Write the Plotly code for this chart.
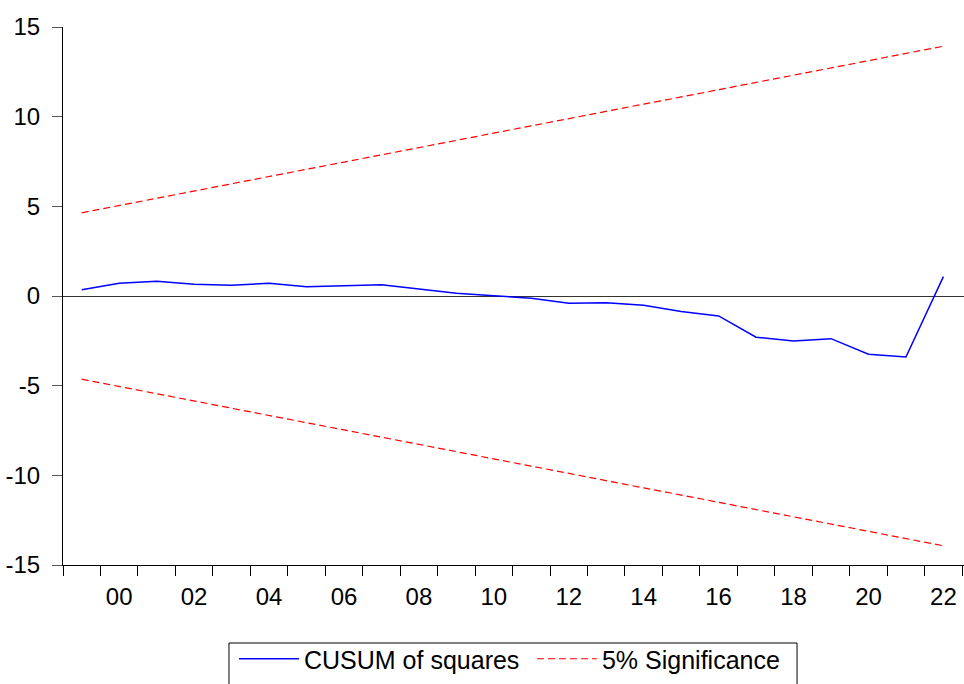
import plotly.graph_objects as go

years = list(range(1999, 2023))
cusum = [0.35, 0.71, 0.82, 0.65, 0.60, 0.71, 0.52, 0.56, 0.63, 0.39, 0.15, 0.02,
         -0.13, -0.41, -0.37, -0.52, -0.87, -1.11, -2.30, -2.51, -2.38, -3.25, -3.40, 1.08]
upper = [4.64, 5.05, 5.45, 5.86, 6.26, 6.66, 7.07, 7.47, 7.87, 8.28, 8.68, 9.09,
         9.49, 9.89, 10.30, 10.70, 11.10, 11.51, 11.91, 12.32, 12.72, 13.12, 13.53, 13.93]
lower = [-4.64, -5.05, -5.45, -5.86, -6.26, -6.66, -7.07, -7.47, -7.87, -8.28, -8.68, -9.09,
         -9.49, -9.89, -10.30, -10.70, -11.10, -11.51, -11.91, -12.32, -12.72, -13.12, -13.53, -13.93]
label_years = list(range(2000, 2023, 2))
label_text = ["%02d" % (y % 100) for y in label_years]
y_ticks = [-15, -10, -5, 0, 5, 10, 15]
y_text = [str(v) for v in y_ticks]

xc = [y + 0.5 for y in years]
FONT = "Liberation Sans, Arial, sans-serif"

fig = go.Figure()
fig.add_trace(go.Scatter(x=xc, y=cusum, mode="lines", name="CUSUM of squares",
                         line=dict(color="#0000ff", width=1.5), legend="legend"))
fig.add_trace(go.Scatter(x=xc, y=upper, mode="lines", name="5% Significance",
                         line=dict(color="#ff0000", width=1.2, dash="7px,4px"),
                         legend="legend2"))
fig.add_trace(go.Scatter(x=xc, y=lower, mode="lines", name="lower", showlegend=False,
                         line=dict(color="#ff0000", width=1.2, dash="7px,4px")))

leg_common = dict(orientation="h", y=-0.132, xanchor="left", yanchor="top",
                  borderwidth=0, font=dict(size=25), bgcolor="rgba(0,0,0,0)",
                  itemwidth=60)

fig.update_layout(
    width=964, height=684,
    margin=dict(l=63, r=0, t=27, b=119, autoexpand=False),
    paper_bgcolor="white", plot_bgcolor="white",
    font=dict(family=FONT, size=24, color="black"),
    showlegend=True,
    legend=dict(x=0.1898, **leg_common),
    legend2=dict(x=0.5205, **leg_common),
    shapes=[dict(type="rect", xref="paper", yref="paper",
                 x0=0.1842, x1=0.8147, y0=-0.145, y1=-0.30,
                 line=dict(color="black", width=1), fillcolor="rgba(0,0,0,0)",
                 layer="below")],
    xaxis=dict(range=[1999, 2023.05], tickmode="array",
               tickvals=[y + 0.5 for y in label_years], ticktext=label_text,
               ticks="", showgrid=False, showline=True, linecolor="black", linewidth=1,
               zeroline=False, ticklabelstandoff=10,
               minor=dict(tickmode="linear", tick0=1999, dtick=1, ticks="outside",
                          ticklen=10, tickcolor="black", tickwidth=1, showgrid=False)),
    yaxis=dict(range=[-15, 15], tickmode="array", tickvals=y_ticks, ticktext=y_text,
               ticks="outside", ticklen=10, tickcolor="#555", tickwidth=1,
               showgrid=False, showline=True, linecolor="black", linewidth=1,
               zeroline=True, zerolinecolor="#333", zerolinewidth=1,
               ticklabelstandoff=7),
)

fig.write_html("out.html")
